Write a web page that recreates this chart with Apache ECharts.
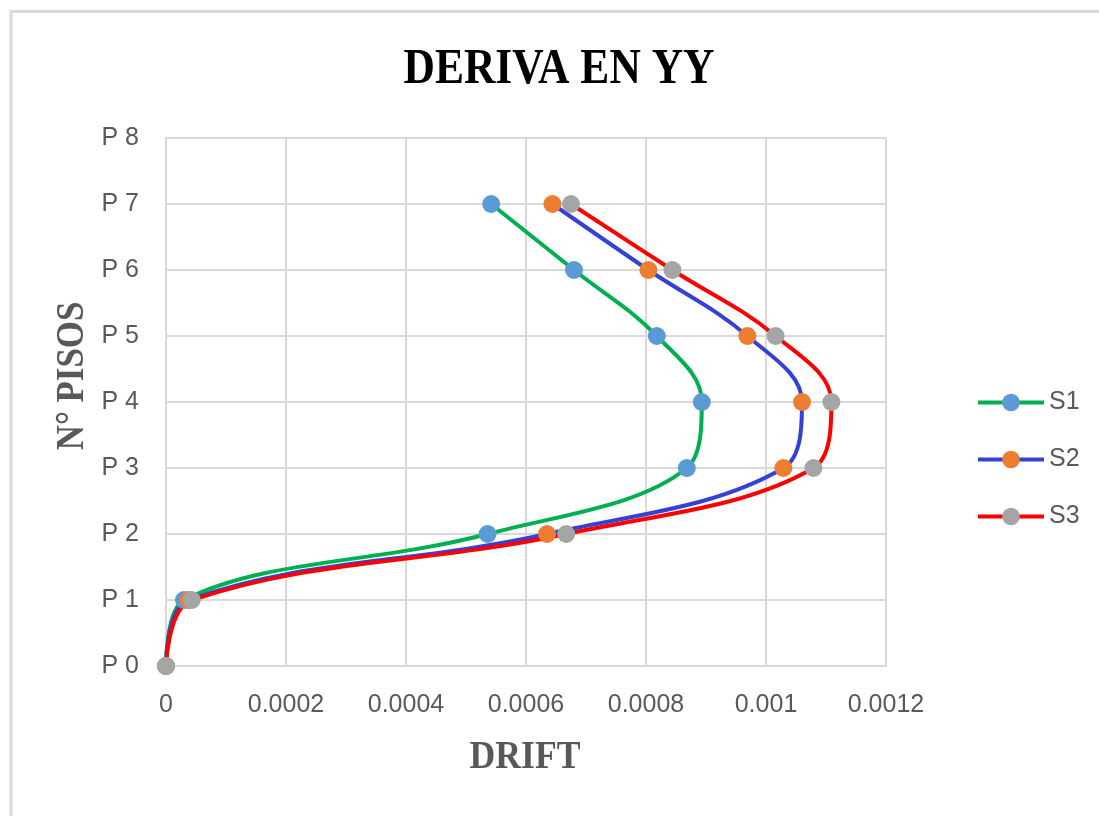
<!DOCTYPE html>
<html>
<head>
<meta charset="utf-8">
<script src="https://cdn.jsdelivr.net/npm/echarts@6/dist/echarts.min.js"></script>
<style>
  html, body { margin: 0; padding: 0; background: #ffffff; }
  #chart { width: 1099px; height: 816px; }
</style>
</head>
<body>
<div id="chart"></div>
<script>
// Storey levels (P 0 … P 7) and drift values per load case
const floors = [0, 1, 2, 3, 4, 5, 6, 7];
const floorTicks = ['P 0', 'P 1', 'P 2', 'P 3', 'P 4', 'P 5', 'P 6', 'P 7', 'P 8'];
const driftTicks = ['0', '0.0002', '0.0004', '0.0006', '0.0008', '0.001', '0.0012'];
const seriesNames = ['S1', 'S2', 'S3'];
const s1 = [0, 0.000030, 0.000536, 0.000868, 0.000893, 0.000818, 0.000680, 0.000542];
const s2 = [0, 0.000038, 0.000635, 0.001029, 0.001060, 0.000969, 0.000804, 0.000644];
const s3 = [0, 0.000043, 0.000667, 0.001079, 0.001109, 0.001016, 0.000844, 0.000675];

const lineColors = ['#00b050', '#3341d4', '#ff0000'];
const markerColors = ['#5b9bd5', '#ed7d31', '#a5a5a5'];

const chart = echarts.init(document.getElementById('chart'), null, { renderer: 'canvas' });

const toPairs = vals => vals.map((v, i) => [v, floors[i]]);
const allValues = [s1, s2, s3];

const gray = '#595959';
const gridColor = '#d9d9d9';

const option = {
  animation: false,
  backgroundColor: '#ffffff',
  grid: { left: 166, right: 213, top: 138, bottom: 150, containLabel: false },
  legend: {
    orient: 'vertical',
    left: 971,
    top: 385,
    itemWidth: 66,
    itemHeight: 22,
    itemGap: 32,
    lineStyle: { width: 4 },
    textStyle: { fontFamily: 'Liberation Sans', fontSize: 25, color: gray },
    data: seriesNames
  },
  xAxis: {
    type: 'value',
    min: 0,
    max: 0.0012,
    interval: 0.0002,
    axisLine: { show: true, lineStyle: { color: gridColor, width: 2 } },
    axisTick: { show: false },
    splitLine: { show: true, lineStyle: { color: gridColor, width: 2 } },
    axisLabel: {
      margin: 27,
      fontFamily: 'Liberation Sans',
      fontSize: 25,
      color: gray,
      formatter: (v, i) => driftTicks[i]
    }
  },
  yAxis: {
    type: 'value',
    min: 0,
    max: 8,
    interval: 1,
    axisLine: { show: true, lineStyle: { color: gridColor, width: 2 } },
    axisTick: { show: false },
    splitLine: { show: true, lineStyle: { color: gridColor, width: 2 } },
    axisLabel: {
      margin: 27,
      fontFamily: 'Liberation Sans',
      fontSize: 25,
      color: gray,
      formatter: v => floorTicks[v]
    }
  },
  series: seriesNames.map((name, k) => ({
    name: name,
    type: 'line',
    data: toPairs(allValues[k]),
    smooth: 0.38,
    symbol: 'circle',
    symbolSize: 18,
    lineStyle: { color: lineColors[k], width: 4 },
    itemStyle: { color: markerColors[k] },
    emphasis: { disabled: true }
  })),
  graphic: [
    // frame edges
    { type: 'line', shape: { x1: 11, y1: 11.5, x2: 1099, y2: 11.5 }, style: { stroke: gridColor, lineWidth: 3 } },
    { type: 'line', shape: { x1: 11, y1: 10, x2: 11, y2: 816 }, style: { stroke: gridColor, lineWidth: 3 } },
    // chart title
    {
      type: 'text', x: 559, y: 70, scaleX: 0.87,
      style: {
        text: 'DERIVA EN YY', fill: '#000000',
        font: 'bold 50px "Liberation Serif"',
        textAlign: 'center', textVerticalAlign: 'middle'
      }
    },
    // axis names
    {
      type: 'text', x: 525, y: 757, scaleX: 0.87,
      style: {
        text: 'DRIFT', fill: gray,
        font: 'bold 41px "Liberation Serif"',
        textAlign: 'center', textVerticalAlign: 'middle'
      }
    },
    {
      type: 'text', x: 72, y: 376, rotation: Math.PI / 2, scaleX: 0.85,
      style: {
        text: 'N° PISOS', fill: gray,
        font: 'bold 41px "Liberation Serif"',
        textAlign: 'center', textVerticalAlign: 'middle'
      }
    }
  ]
};

chart.setOption(option);
</script>
</body>
</html>
